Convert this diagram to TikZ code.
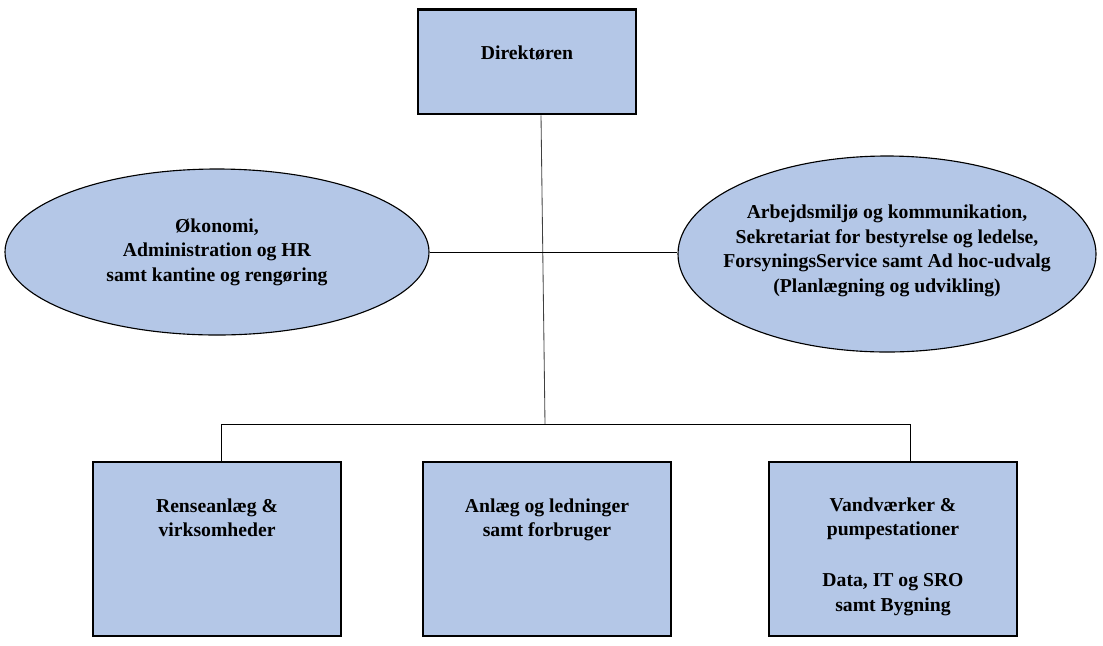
\documentclass[tikz,border=0pt]{standalone}
\usepackage{fontspec}
\setmainfont{Liberation Serif}
\usepackage{xcolor}
\usetikzlibrary{shapes.geometric, positioning, calc}
\definecolor{unitblue}{HTML}{B4C7E7}

\begin{document}
\begin{tikzpicture}[
    box/.style={rectangle, draw=black, fill=unitblue, line width=0.8pt,
                minimum width=6.2cm, minimum height=4.35cm, inner sep=0pt},
    oval/.style={ellipse, draw=black, fill=unitblue, line width=0.8pt, inner sep=0pt},
    lbl/.style={align=center, font=\fontsize{14}{17.5}\selectfont\bfseries},
    conn/.style={line width=0.6pt}
]
    \useasboundingbox (0,0) rectangle (27.575,-16.125);

    % Top box
    \node[box, line width=2pt, minimum width=5.45cm, minimum height=2.62cm, lbl]
        (dir) at (13.175,-1.5375) {Direktøren\\[-1.5mm]};

    % Staff functions
    \node[oval, minimum width=10.6cm, minimum height=4.15cm] (lell) at (5.425,-6.3) {};
    \node[oval, minimum width=10.45cm, minimum height=4.9cm] (rell) at (22.175,-6.35) {};
    \node[lbl] (ltext) at (lell.center) {Økonomi,\\Administration og HR\\samt kantine og rengøring};
    \node[lbl] (rtext) at ([yshift=0.08cm]rell.center)
        {Arbejdsmiljø og kommunikation,\\Sekretariat for bestyrelse og ledelse,\\
         ForsyningsService samt Ad hoc-udvalg\\(Planlægning og udvikling)};

    % Line units
    \node[box] (b1) at (5.425,-13.725) {};
    \node[box] (b2) at (13.675,-13.725) {};
    \node[box] (b3) at (22.325,-13.725) {};
    \node[lbl, below=0.8cm of b1.north] (t1) {Renseanlæg \&\\virksomheder};
    \node[lbl, below=0.8cm of b2.north] (t2) {Anlæg og ledninger\\samt forbruger};
    \node[lbl, below=0.78cm of b3.north] (t3) {Vandværker \&\\pumpestationer\\[6.5mm]Data, IT og SRO\\samt Bygning};

    % Connectors
    \coordinate (ttop) at ([xshift=0.35cm]dir.south);
    \coordinate (tbot) at (13.625,-10.6);
    \coordinate (busL) at (5.525,-10.6);
    \coordinate (busR) at (22.75,-10.6);
    \draw[conn, black!75] (ttop) -- (tbot);
    \draw[conn] (lell.east) -- (lell.east -| rell.west);
    \draw[conn] (b1.north -| busL) -- (busL) -- (busR) -- (b3.north -| busR);
\end{tikzpicture}
\end{document}
